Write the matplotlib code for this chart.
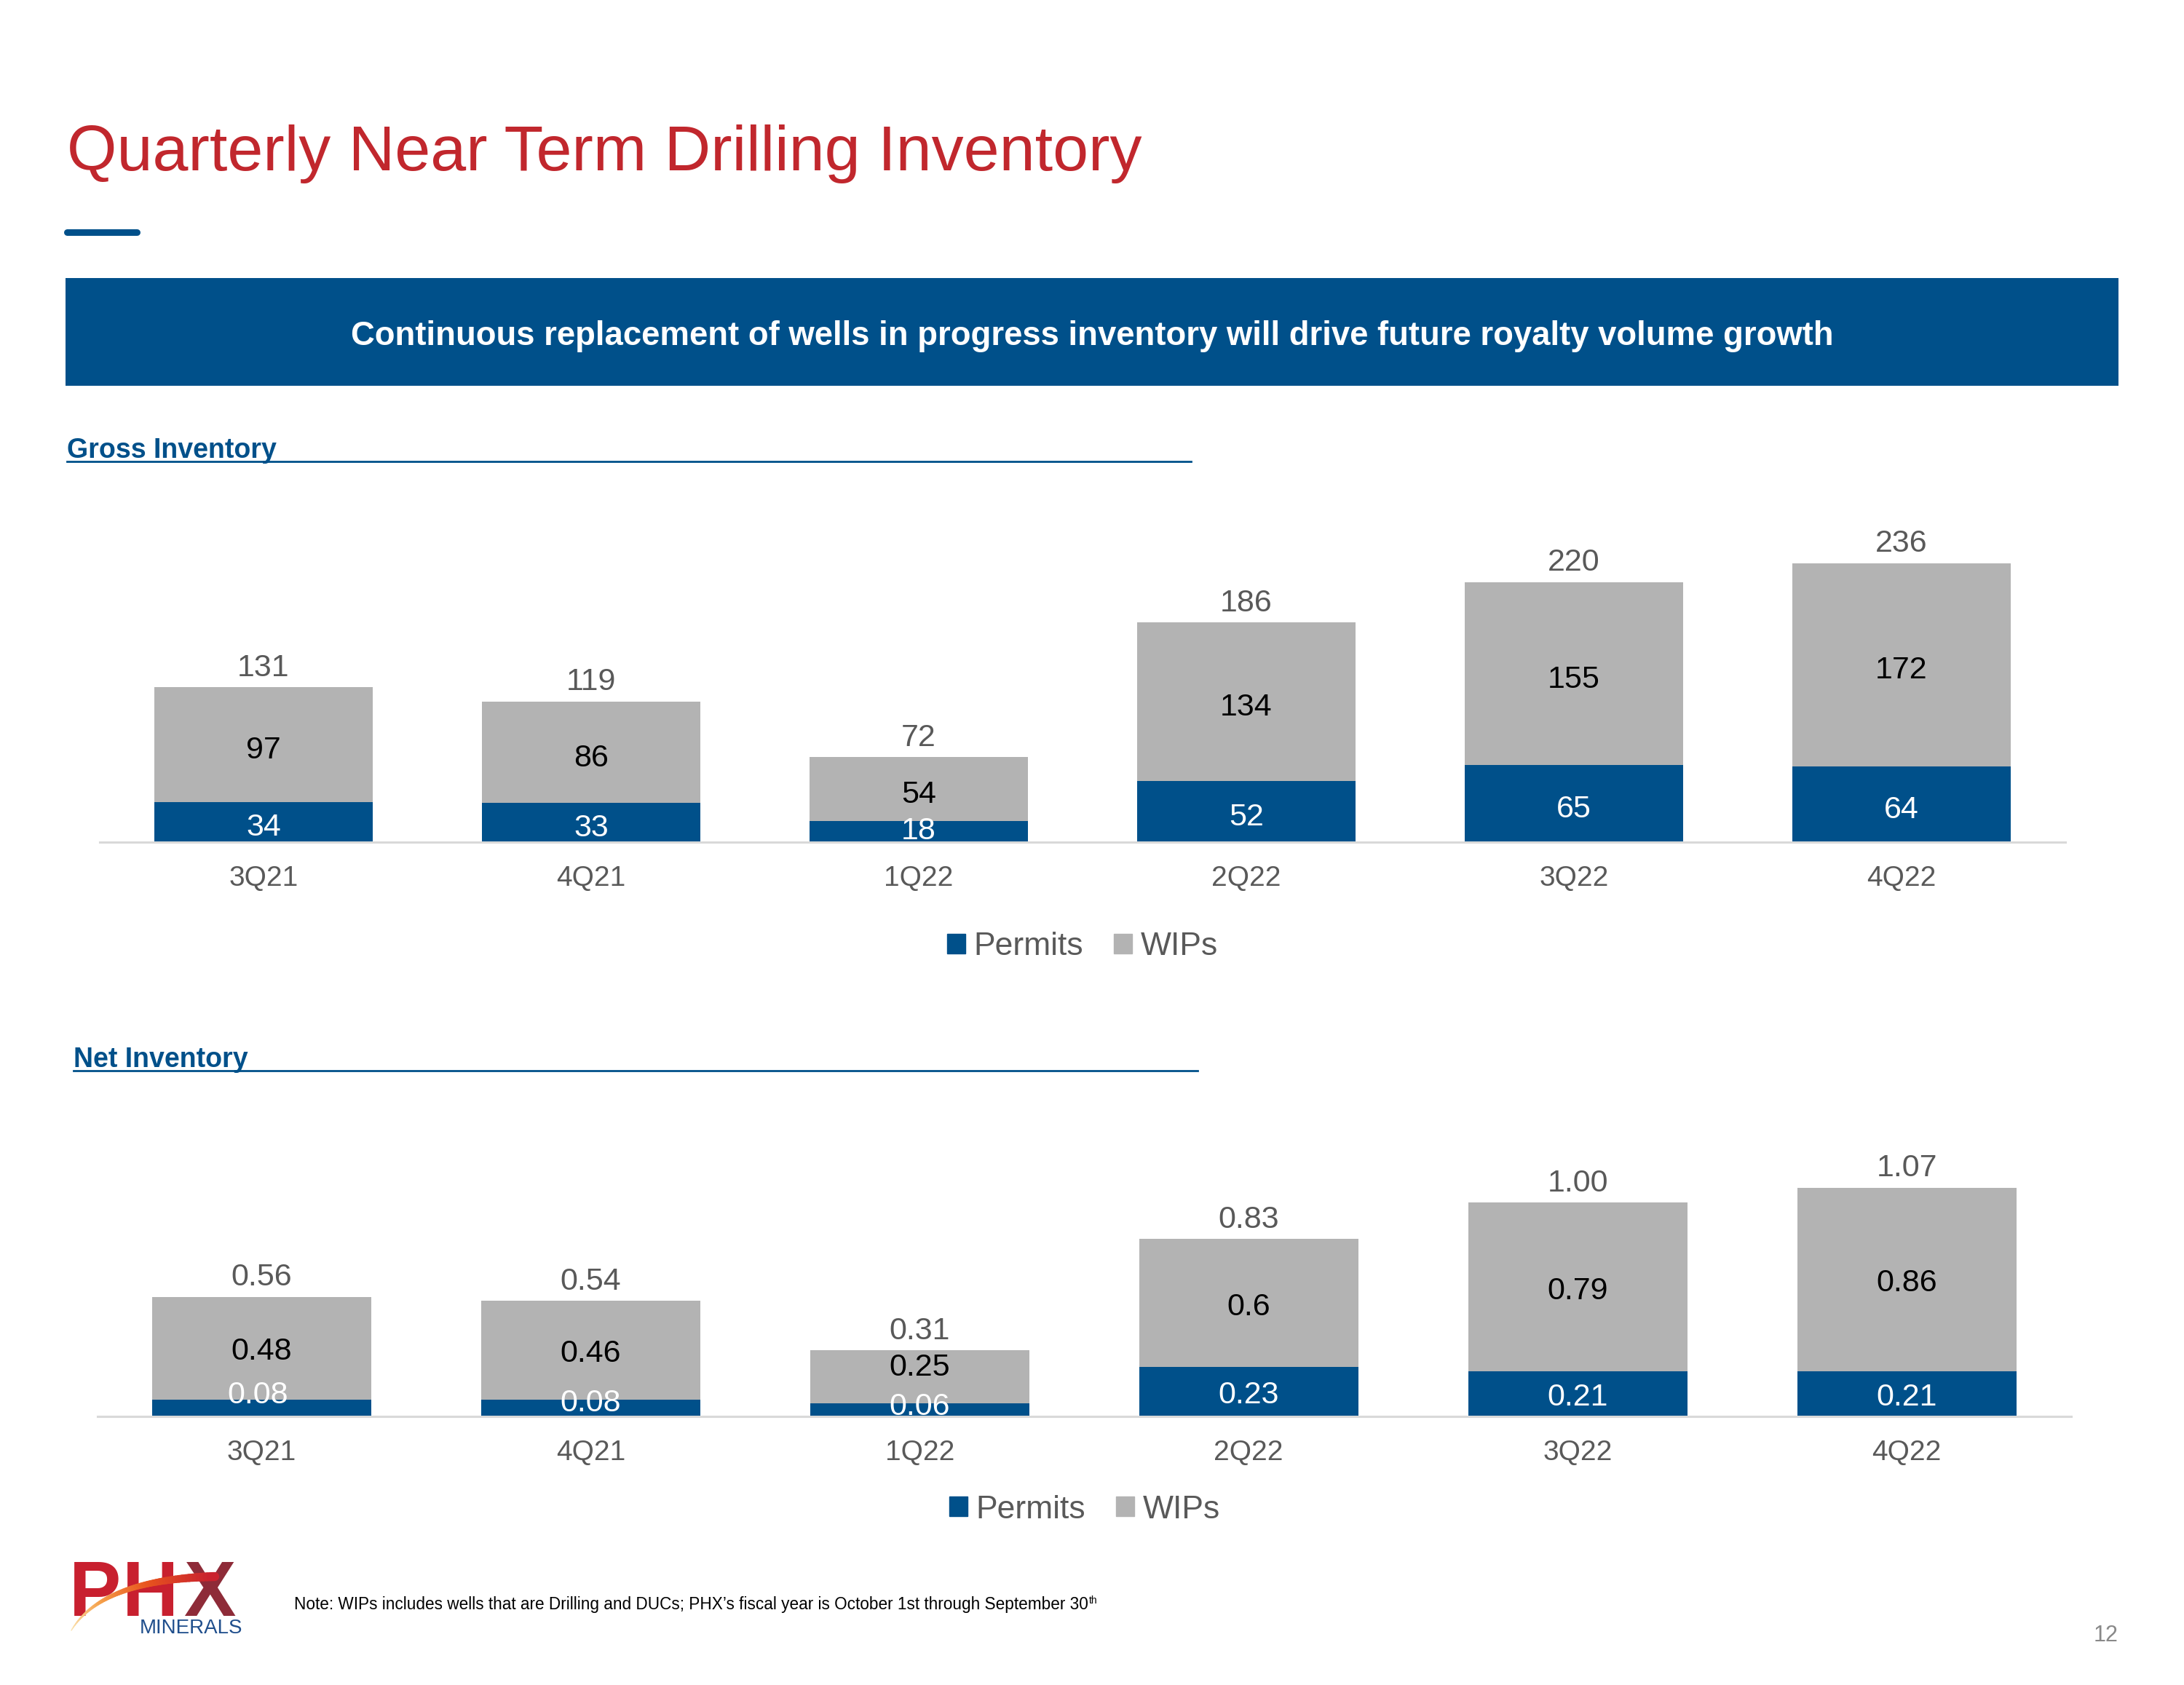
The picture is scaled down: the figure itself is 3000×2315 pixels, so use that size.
import matplotlib.pyplot as plt
import numpy as np
from matplotlib.patches import Rectangle, Patch
from matplotlib.lines import Line2D
from matplotlib.collections import LineCollection

plt.rcParams['font.family'] = ['Liberation Sans', 'DejaVu Sans']

# data
quarters = ['3Q21', '4Q21', '1Q22', '2Q22', '3Q22', '4Q22']
gross_permits = [34, 33, 18, 52, 65, 64]
gross_wips = [97, 86, 54, 134, 155, 172]
gross_totals = ['131', '119', '72', '186', '220', '236']
net_permits = [0.08, 0.08, 0.06, 0.23, 0.21, 0.21]
net_wips = [0.48, 0.46, 0.25, 0.6, 0.79, 0.86]
net_permit_labels = ['0.08', '0.08', '0.06', '0.23', '0.21', '0.21']
net_wip_labels = ['0.48', '0.46', '0.25', '0.6', '0.79', '0.86']
net_totals = ['0.56', '0.54', '0.31', '0.83', '1.00', '1.07']

BLUE = '#00508A'
GREY = '#B3B3B3'
RED = '#C1272D'
LABEL = '#595959'

W, H = 3000, 2315
fig = plt.figure(figsize=(W / 100, H / 100), dpi=100)
fig.patch.set_facecolor('white')


def fx(px):
    return px / W


def fy(py):
    return 1 - py / H


def stacked_chart(rect, permits, wips, permit_labels, wip_labels, totals,
                  ymax, legend_xy, permit_nudge=None, wip_nudge=None):
    ax = fig.add_axes(rect)
    x = np.arange(len(quarters))
    ax.bar(x, permits, 0.666, color=BLUE, zorder=2)
    ax.bar(x, wips, 0.666, bottom=permits, color=GREY, zorder=2)
    ax.set_xlim(-0.5, len(quarters) - 0.5)
    ax.set_ylim(0, ymax)
    for side in ['top', 'right', 'left']:
        ax.spines[side].set_visible(False)
    ax.spines['bottom'].set_color('#D9D9D9')
    ax.spines['bottom'].set_linewidth(2.2)
    ax.set_yticks([])
    ax.set_xticks(x, quarters)
    ax.tick_params(axis='x', length=0, pad=23, labelsize=28, labelcolor=LABEL)
    ax.set_facecolor('none')

    permit_nudge = permit_nudge or [(0, 0)] * len(quarters)
    wip_nudge = wip_nudge or [(0, 0)] * len(quarters)
    for i in range(len(quarters)):
        px, py = permit_nudge[i]
        wx, wy = wip_nudge[i]
        ax.annotate(permit_labels[i], (i, permits[i] / 2), xytext=(px, py - 2.5),
                    textcoords='offset points', ha='center', va='center_baseline',
                    color='white', fontsize=31, zorder=3)
        ax.annotate(wip_labels[i], (i, permits[i] + wips[i] / 2), xytext=(wx, wy - 2.5),
                    textcoords='offset points', ha='center', va='center_baseline',
                    color='black', fontsize=31, zorder=3)
        ax.annotate(totals[i], (i, permits[i] + wips[i]), xytext=(0, 11),
                    textcoords='offset points', ha='center', va='baseline',
                    color=LABEL, fontsize=31, zorder=3)

    handles = [Patch(color=BLUE), Patch(color=GREY)]
    fig.legend(handles, ['Permits', 'WIPs'], loc='center', bbox_to_anchor=legend_xy,
               ncol=2, frameon=False, fontsize=32, handlelength=0.56, handleheight=0.56,
               handletextpad=0.25, columnspacing=0.95, labelcolor=LABEL,
               borderpad=0, borderaxespad=0)
    return ax


# title and header bits
fig.text(fx(92), fy(234), 'Quarterly Near Term Drilling Inventory', fontsize=63.4,
         color=RED, va='baseline', ha='left')
fig.add_artist(Line2D([fx(92), fx(188)], [fy(318.5), fy(318.5)], color=BLUE,
                      lw=6.5, solid_capstyle='round'))
fig.add_artist(Rectangle((fx(90), fy(530)), fx(2910) - fx(90), (530 - 382) / H,
                         facecolor=BLUE, edgecolor='none'))
fig.text(0.5, fy(457), 'Continuous replacement of wells in progress inventory will drive future royalty volume growth',
         fontsize=32.8, fontweight='bold', color='white', ha='center', va='center_baseline')

# section headers
fig.text(fx(92), fy(629), 'Gross Inventory', fontsize=27, fontweight='bold', color=BLUE, va='baseline')
fig.add_artist(Line2D([fx(92), fx(1636)], [fy(634), fy(634)], color=BLUE, lw=2))
fig.text(fx(101), fy(1466), 'Net Inventory', fontsize=27, fontweight='bold', color=BLUE, va='baseline')
fig.add_artist(Line2D([fx(101), fx(1645)], [fy(1471), fy(1471)], color=BLUE, lw=2))

# charts
stacked_chart([fx(137), fy(1157), fx(2837) - fx(137), 250 * 1.624 / H],
              gross_permits, gross_wips, [str(v) for v in gross_permits],
              [str(v) for v in gross_wips], gross_totals, 250,
              (fx(1487), fy(1301)),
              permit_nudge=[(0, 0), (0, 0), (0, 6), (0, 0), (0, 0), (0, 0)])

stacked_chart([fx(133.5), fy(1946), fx(2845) - fx(133.5), 1.2 * 293.7 / H],
              net_permits, net_wips, net_permit_labels, net_wip_labels, net_totals,
              1.2, (fx(1490), fy(2074)),
              permit_nudge=[(-4, 18), (0, 10), (0, 9), (0, 2), (0, 2), (0, 2)],
              wip_nudge=[(0, 2), (0, 2), (0, 15), (0, 2), (0, 2), (0, 2)])

# footnote
renderer = fig.canvas.get_renderer()
note = fig.text(fx(404), fy(2211), 'Note: WIPs includes wells that are Drilling and DUCs; '
                'PHX\u2019s fiscal year is October 1st through September 30',
                fontsize=16.3, color='black', va='baseline', ha='left')
bb = note.get_window_extent(renderer)
fig.text(bb.x1 / W + 0.0004, fy(2203), 'th', fontsize=10, color='black', va='baseline', ha='left')

# page number
fig.text(fx(2909), fy(2255), '12', fontsize=22, color='#898989', ha='right', va='baseline')

# logo
logo_letters = ['P', 'H', 'X']
logo_colors = ['#C8202F', '#C8202F', '#8E2B38']
logo_left = [95, 168, 252]
for letter, col, left in zip(logo_letters, logo_colors, logo_left):
    fig.text(fx(left), fy(2220), letter, fontsize=77, fontweight='bold', color=col,
             va='baseline', ha='left')
fig.text(fx(192), fy(2244), 'MINERALS', fontsize=20, color='#1F4E8C', va='baseline', ha='left')

t = np.linspace(0, 1, 60)
p0, p1, p2 = np.array([98, 2240]), np.array([140, 2170]), np.array([295, 2166])
pts = ((1 - t)[:, None] ** 2 * p0 + 2 * ((1 - t) * t)[:, None] * p1 + (t ** 2)[:, None] * p2)
pts = np.column_stack([pts[:, 0] / W, 1 - pts[:, 1] / H])
segs = np.stack([pts[:-1], pts[1:]], axis=1)
cmap = plt.matplotlib.colors.LinearSegmentedColormap.from_list(
    'swoosh', ['#FBE3B0', '#F5A04A', '#E8541E', '#C8202F'])
lc = LineCollection(segs, colors=cmap(t[:-1]), linewidths=1 + 8 * t[:-1],
                    transform=fig.transFigure, capstyle='round', zorder=5)
fig.add_artist(lc)

fig.savefig('out.png', dpi=100, facecolor='white')
